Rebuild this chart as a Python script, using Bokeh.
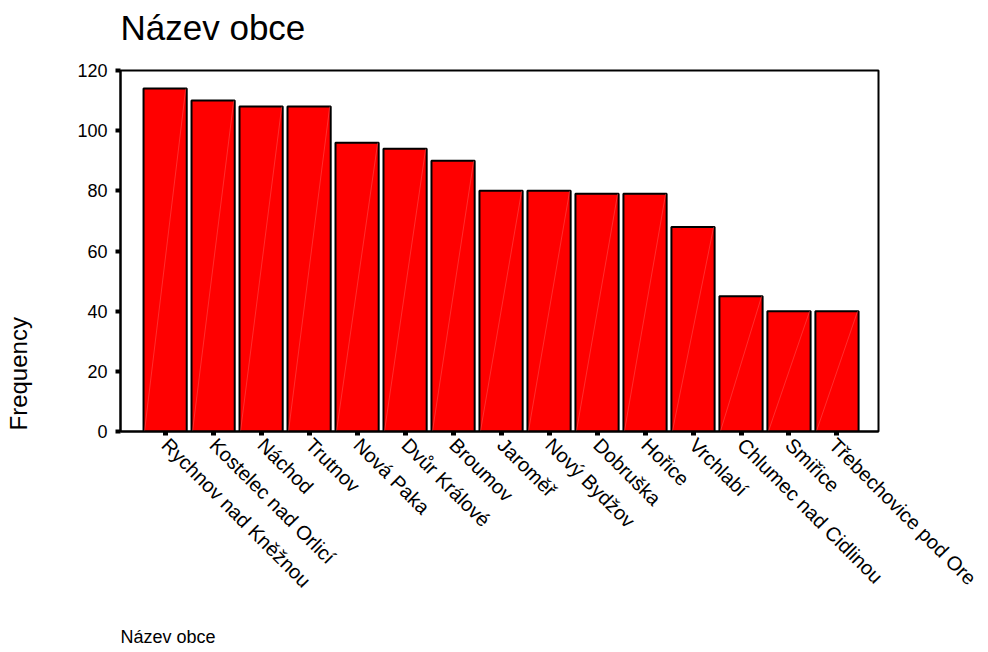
import math
from bokeh.plotting import figure
from bokeh.models import (Range1d, FixedTicker, LinearAxis, Title,
                          ColumnDataSource)
from bokeh.embed import file_html
from bokeh.resources import INLINE

names = ["Rychnov nad Kněžnou", "Kostelec nad Orlicí", "Náchod", "Trutnov",
         "Nová Paka", "Dvůr Králové", "Broumov", "Jaroměř", "Nový Bydžov",
         "Dobruška", "Hořice", "Vrchlabí", "Chlumec nad Cidlinou", "Smiřice",
         "Třebechovice pod Ore"]
freq = [114, 110, 108, 108, 96, 94, 90, 80, 80, 79, 79, 68, 45, 40, 40]
y_ticks = [0, 20, 40, 60, 80, 100, 120]
title_text = "Název obce"
x_title = "Název obce"
y_title = "Frequency"

FONT = "Liberation Sans"
X0, X1 = -0.93, 14.865
xs = list(range(len(names)))
bw = 0.9
src = ColumnDataSource(dict(
    x=xs, top=freq,
    x0=[x - bw / 2 + 0.02 for x in xs],
    x1=[x + bw / 2 - 0.02 for x in xs],
    y0=[0] * len(xs),
))

p = figure(width=980, height=652, output_backend="svg", toolbar_location=None,
           x_range=Range1d(X0, X1), y_range=Range1d(0, 120),
           min_border_left=120, min_border_right=102, min_border_top=70,
           min_border_bottom=221)
p.grid.grid_line_color = None
p.outline_line_color = "black"
p.outline_line_width = 2
p.background_fill_color = "white"
p.border_fill_color = "white"

p.vbar(x="x", top="top", width=bw, bottom=0, source=src,
       fill_color="#ff0000", line_color="black", line_width=2)
p.segment(x0="x0", y0="y0", x1="x1", y1="top", source=src,
          line_color="#ff7070", line_width=1, line_alpha=0.4)

# y axis
ya = p.yaxis[0]
ya.ticker = FixedTicker(ticks=y_ticks)
ya.minor_tick_line_color = None
ya.major_tick_in = 0
ya.major_tick_out = 5
ya.major_tick_line_width = 4
ya.axis_line_width = 2
ya.major_label_text_font = FONT
ya.major_label_text_font_size = "18px"
ya.major_label_text_color = "black"
ya.major_label_standoff = 8

# x axis
xa = p.xaxis[0]
xa.ticker = FixedTicker(ticks=xs)
xa.major_label_overrides = {i: n for i, n in enumerate(names)}
xa.major_label_orientation = -math.pi / 4
xa.minor_tick_line_color = None
xa.major_tick_in = 0
xa.major_tick_out = 4
xa.major_tick_line_width = 5
xa.axis_line_width = 2
xa.major_label_text_font = FONT
xa.major_label_text_font_size = "20px"
xa.major_label_text_color = "black"
xa.major_label_standoff = 6


def spacer(gap):
    """An invisible axis used only to reserve empty space in a side panel."""
    return LinearAxis(ticker=FixedTicker(ticks=[]), axis_label="\u00a0",
                      axis_label_text_font_size="1px",
                      axis_label_standoff=gap,
                      axis_line_color=None, major_tick_line_color=None,
                      minor_tick_line_color=None, major_tick_in=0,
                      major_tick_out=0, minor_tick_in=0, minor_tick_out=0,
                      major_label_standoff=0)


def caption(text, size, valign, offset=0):
    return Title(text=text, align="left", vertical_align=valign,
                 text_font=FONT, text_font_size=size,
                 text_font_style="normal", text_color="black",
                 standoff=0, offset=offset)


p.add_layout(spacer(18), "above")
p.add_layout(caption(title_text, "35px", "top"), "above")

p.add_layout(spacer(18), "below")
p.add_layout(caption(x_title, "18px", "bottom"), "below")

p.add_layout(spacer(37), "left")
p.add_layout(caption(y_title, "24px", "top", offset=1), "left")

open("out.html", "w").write(file_html(p, INLINE))
